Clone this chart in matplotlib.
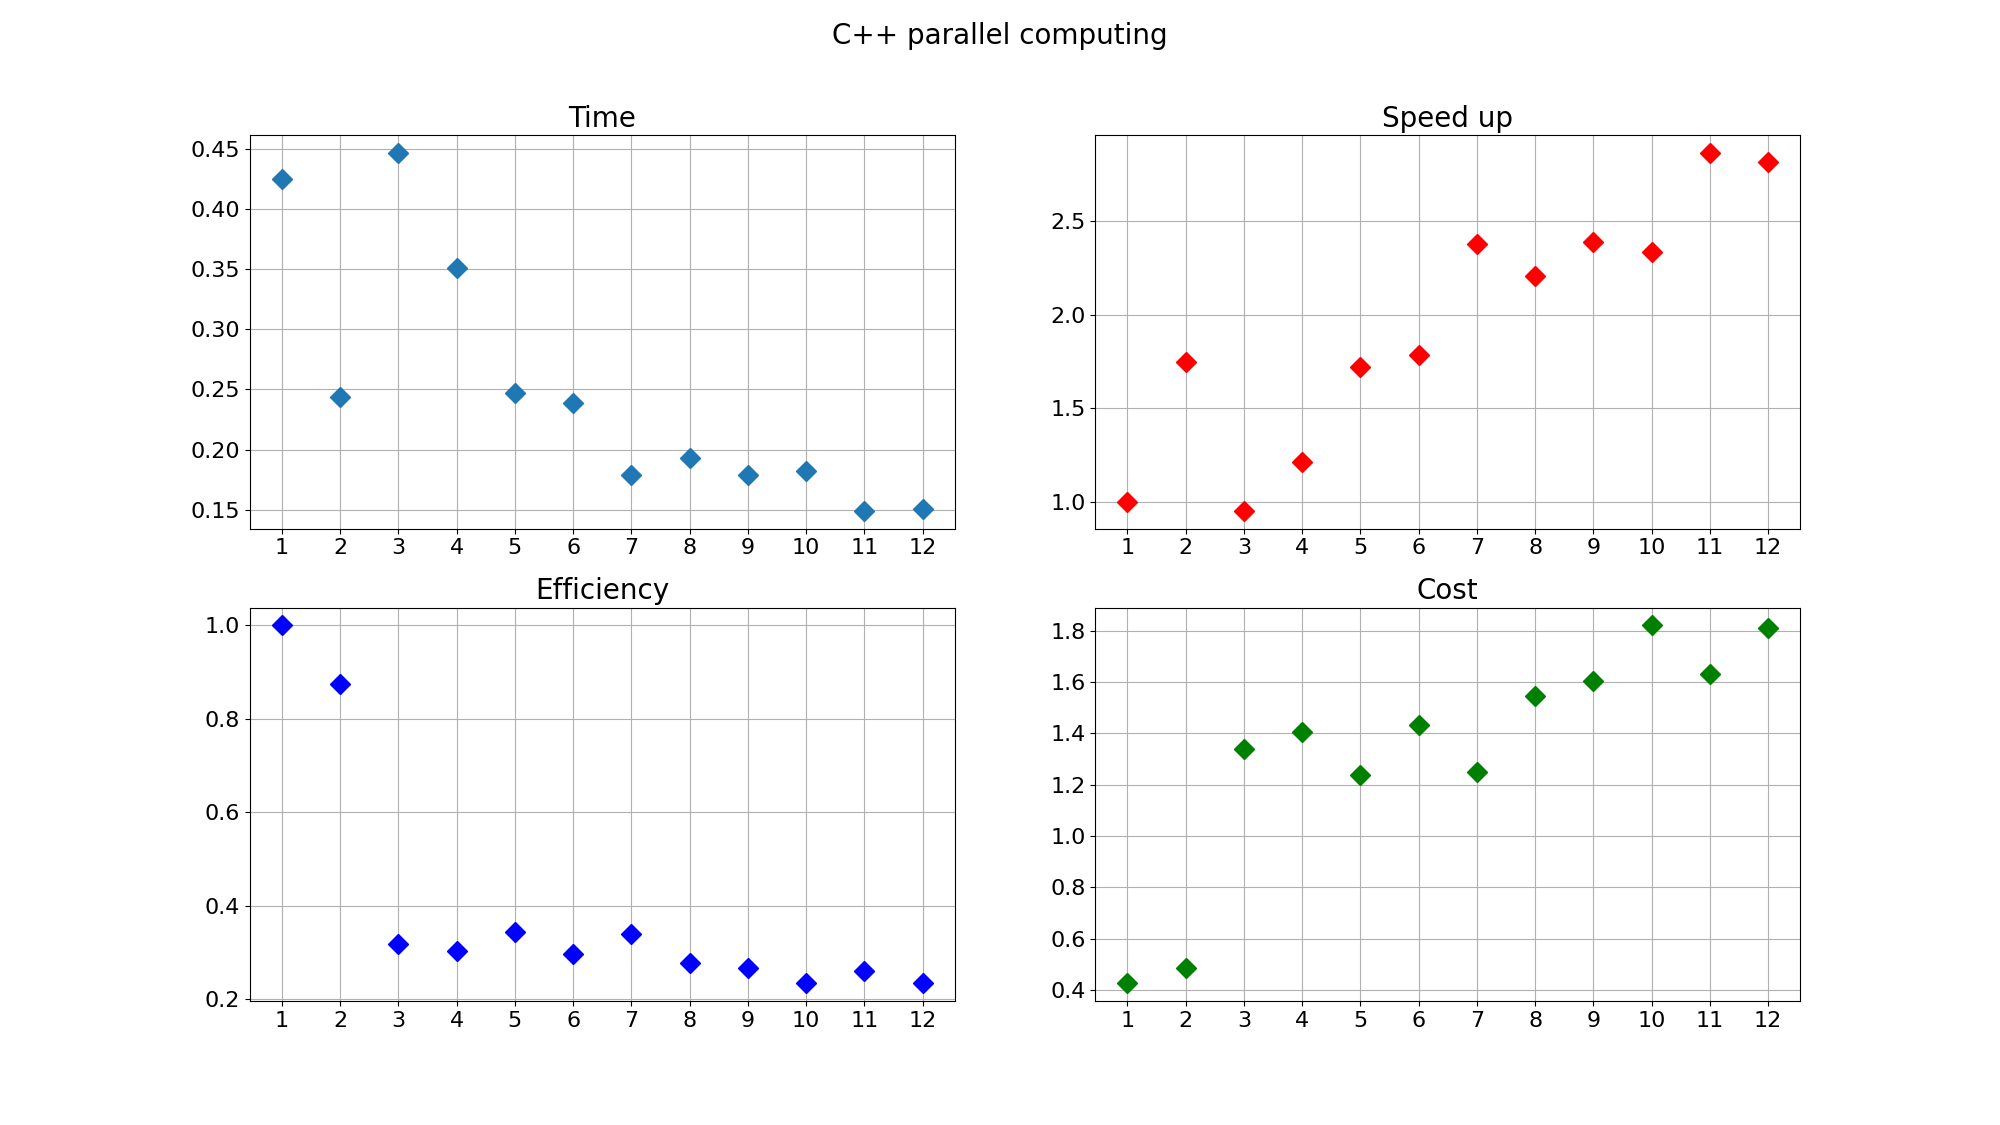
import matplotlib
matplotlib.use("Agg")
import matplotlib.pyplot as plt

threads = list(range(1, 13))
time_vals = [0.425, 0.2433, 0.4467, 0.3508, 0.2467, 0.2386, 0.1786, 0.1933, 0.1786, 0.1819, 0.1490, 0.1508]
speedup_vals = [1.0, 1.747, 0.953, 1.213, 1.722, 1.783, 2.377, 2.205, 2.388, 2.336, 2.863, 2.815]
efficiency_vals = [1.0, 0.8737, 0.3187, 0.3037, 0.3444, 0.297, 0.340, 0.2766, 0.2673, 0.234, 0.2606, 0.2345]
cost_vals = [0.426, 0.484, 1.341, 1.404, 1.238, 1.432, 1.251, 1.546, 1.604, 1.821, 1.633, 1.809]

titles = ["Time", "Speed up", "Efficiency", "Cost"]
series = [time_vals, speedup_vals, efficiency_vals, cost_vals]
colors = ["#1f77b4", "red", "blue", "green"]

fig, axes = plt.subplots(2, 2, figsize=(20, 11.25), dpi=100)
fig.suptitle("C++ parallel computing", fontsize=20)

for ax, title, vals, col in zip(axes.flat, titles, series, colors):
    ax.plot(threads, vals, linestyle="none", marker="D", markersize=10, color=col)
    ax.set_title(title, fontsize=20)
    ax.set_xticks(threads)
    ax.tick_params(labelsize=16)
    ax.grid(True)

fig.savefig("out.png", dpi=100)
